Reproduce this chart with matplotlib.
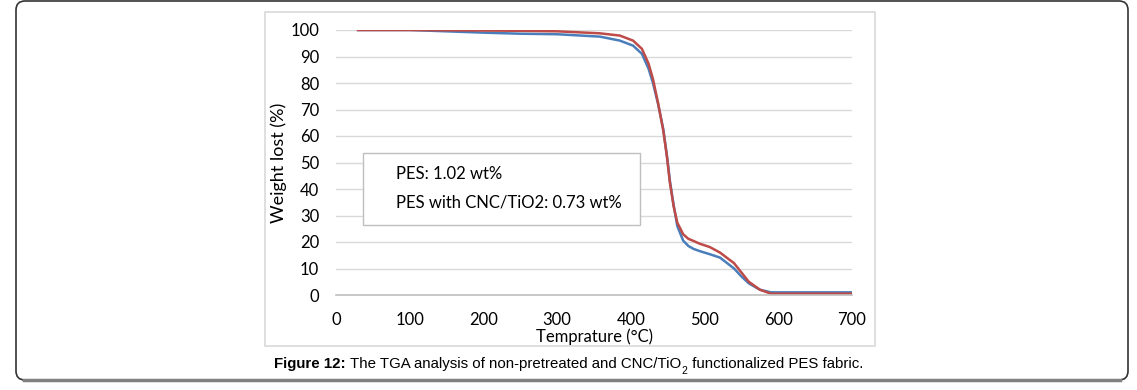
import numpy as np
import matplotlib
matplotlib.use("Agg")
import matplotlib.pyplot as plt
from matplotlib.patches import FancyBboxPatch, Rectangle
from matplotlib.transforms import IdentityTransform

plt.rcParams['font.family'] = ['Lato', 'DejaVu Sans']

# data
temp = [30, 100, 200, 250, 300, 358, 385, 403, 415, 424, 430, 437, 444, 449, 453, 458,
        463, 471, 478, 485, 493, 507, 521, 540, 550, 560, 575, 590, 620, 700]
pes = [100, 100, 99.0, 98.6, 98.4, 97.5, 96.0, 94.1, 91.0, 85.4, 80.0, 72.0, 62.5, 52.5, 43.0, 34.0,
       26.0, 20.5, 18.5, 17.4, 16.6, 15.4, 14.1, 10.0, 7.0, 4.4, 2.0, 1.0, 1.0, 1.0]
pes_cnc = [100, 100, 99.8, 99.7, 99.5, 98.75, 97.9, 96.0, 92.9, 87.3, 81.5, 72.3, 62.0, 52.0, 42.3, 33.5,
           27.3, 22.9, 21.2, 20.4, 19.4, 18.1, 16.0, 12.0, 8.5, 5.0, 2.0, 0.5, 0.5, 0.5]
xticks = np.arange(0, 701, 100)
yticks = np.arange(0, 101, 10)
notes = ["PES: 1.02 wt%", "PES with CNC/TiO2: 0.73 wt%"]

fig = plt.figure(figsize=(11.37, 3.9), dpi=100)
ax = fig.add_axes([336/1137, 1-295/390, 516/1137, 265/390])

# outer frame and chart frame (pixel coords)
frame = FancyBboxPatch((16, 10), 1112, 379, boxstyle="round,pad=0,rounding_size=9",
                       transform=IdentityTransform(), fill=False, ec="#333333", lw=1.2)
fig.patches.append(frame)
fig.add_artist(plt.Line2D([24, 1120], [10, 10], transform=IdentityTransform(),
                          color="#808080", lw=2.5))
fig.patches.append(Rectangle((265, 44), 610, 334, transform=IdentityTransform(),
                             fill=False, ec="#d9d9d9", lw=1.2))

ax.plot(temp, pes, color="#4a7ebb", lw=1.8)
ax.plot(temp, pes_cnc, color="#be4b48", lw=1.8)

ax.set_xlim(0, 700)
ax.set_ylim(0, 100)
ax.set_xticks(xticks)
ax.set_yticks(yticks)
ax.tick_params(length=0, labelsize=12)
ax.tick_params(axis="x", pad=12)
ax.tick_params(axis="y", pad=12)
ax.grid(axis="y", color="#d9d9d9", lw=1.0)
ax.set_axisbelow(True)
for s in ["top", "right", "left"]:
    ax.spines[s].set_visible(False)
ax.spines["bottom"].set_color("#bfbfbf")
ax.spines["bottom"].set_linewidth(1.2)

ax.set_xlabel("Temprature (°C)", fontsize=12)
ax.xaxis.set_label_coords(0.5, -0.125)
ax.set_ylabel("Weight lost (%)", fontsize=13)
ax.yaxis.set_label_coords(-0.095, 0.5)

# annotation box
ax.add_patch(Rectangle((37, 26.4), 375, 27.2, fc="white", ec="#bfbfbf", lw=1.0, zorder=3))
ax.text(81, 45.7, notes[0], fontsize=12, va="center", zorder=4)
ax.text(81, 35.0, notes[1], fontsize=12, va="center", zorder=4)

# caption, pieced together so the subscript sits low like the original
cf = dict(fontsize=10.8, family="Liberation Sans")
cap1 = fig.text(274/1137, 1-368/390, "Figure 12:", weight="bold", va="baseline", **cf)
cap2 = ax.annotate("The TGA analysis of non-pretreated and CNC/TiO",
                   xy=(1, 0), xycoords=cap1, xytext=(3, 0), textcoords="offset points",
                   va="bottom", annotation_clip=False, **cf)
sub = ax.annotate("2", xy=(1, 0), xycoords=cap2, xytext=(0.5, -3.5), textcoords="offset points",
                  va="bottom", fontsize=7.5, family="Liberation Sans", annotation_clip=False)
ax.annotate(" functionalized PES fabric.", xy=(1, 0), xycoords=(sub, cap2),
            xytext=(0, 0), textcoords="offset points",
            va="bottom", annotation_clip=False, **cf)

fig.savefig("out.png", dpi=100)
